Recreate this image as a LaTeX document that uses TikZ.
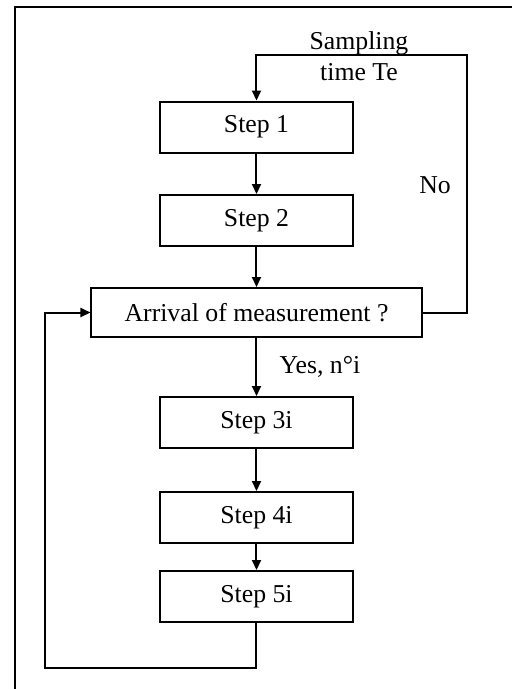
\documentclass[tikz,border=0pt]{standalone}
\usepackage{fontspec}
\setmainfont{Liberation Serif}
\usetikzlibrary{calc,arrows.meta}

\begin{document}
\begin{tikzpicture}[x=0.4pt,y=-0.4pt,font=\fontsize{10.3}{12.4}\selectfont]
			\tikzstyle{stepbox}=[rectangle,draw,line width=0.8pt,minimum width=77.2pt,minimum height=20.4pt,inner sep=0pt,fill=white]
			\tikzstyle{flow}=[line width=0.8pt,-{Triangle[length=4pt,width=3.6pt]}]
			\tikzstyle{wire}=[line width=0.8pt]
			\useasboundingbox (0,0) rectangle (512,689);
			\draw[wire] (512,7) -- (15,7) -- (15,689);
			\node[stepbox] (s1) at (256.5,127) {Step 1};
			\node[stepbox] (s2) at (256.5,220.5) {Step 2};
			\node[stepbox,minimum width=132pt,minimum height=19.6pt] (arr) at (256.5,312.5) {Arrival of measurement ?};
			\node[stepbox] (s3) at (256.5,422.5) {Step 3i};
			\node[stepbox] (s4) at (256.5,517.5) {Step 4i};
			\node[stepbox] (s5) at (256.5,596.5) {Step 5i};
			\node[align=center,inner sep=0pt] (te) at (359,56) {Sampling\\time Te};
			\node[inner sep=0pt] (no) at (435,185) {No};
			\node[inner sep=0pt] (yes) at (320,367) {Yes, n°i};
			\coordinate (nr) at (467,312.5);
			\coordinate (nt) at (467,55);
			\coordinate (bl) at (45,668);
			\draw[flow] (s1) -- (s2);
			\draw[flow] (s2) -- (arr);
			\draw[flow] (arr) -- (s3);
			\draw[flow] (s3) -- (s4);
			\draw[flow] (s4) -- (s5);
			\draw[flow] (arr.east) -- (nr) -- (nt) -| (s1.north);
			\draw[flow] (s5.south) |- (bl) |- (arr.west);
		\end{tikzpicture}
\end{document}
